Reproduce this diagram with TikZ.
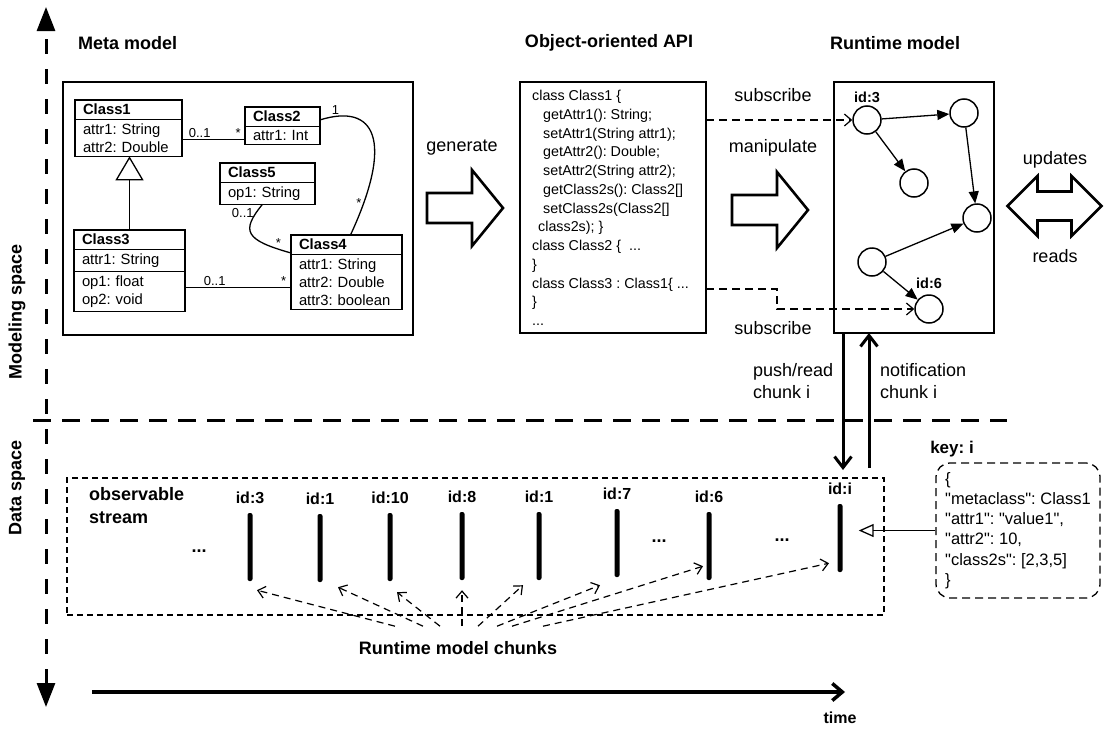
\documentclass[tikz,border=0pt]{standalone}
\usepackage{fontspec}
\setmainfont{Liberation Sans}
\newfontfamily\plainfont{Liberation Sans}
\usepackage{tikz}
\usetikzlibrary{arrows.meta,positioning,shapes.multipart}
\frenchspacing

\begin{document}
\begin{tikzpicture}[
  x = 1pt, y = -1pt,
  label distance = 8pt,
  title/.style = {font=\fontsize{18}{23}\selectfont\bfseries, inner sep=1pt},
  lbl/.style = {font=\fontsize{18}{22}\selectfont, inner sep=1pt},
  spacelbl/.style = {rotate=90, font=\fontsize{18}{20}\selectfont\bfseries},
  panel/.style = {draw, line width=1.5pt, anchor=north west, outer sep=0pt, inner sep=0pt},
  code/.style = {font=\fontsize{14.3}{18.75}\selectfont, align=left, inner sep=0pt, anchor=north west},
  umlclass/.style = {rectangle split, rectangle split parts=2, draw, line width=1.3pt, fill=white,
    font=\fontsize{14.8}{18}\selectfont, inner xsep=8pt, inner ysep=3.5pt, align=left,
    anchor=north west, outer sep=0pt},
  mult/.style = {font=\fontsize{13}{15}\selectfont, inner sep=1.5pt},
  assoc/.style = {line width=1.3pt},
  inherit/.style = {-{Triangle[open, length=24pt, width=28pt]}, line width=1.3pt},
  obj/.style = {circle, draw, line width=1.5pt, minimum size=28pt, inner sep=0pt, fill=white},
  rtid/.style = {font=\fontsize{14.5}{17}\selectfont\bfseries, inner sep=1pt},
  ref/.style = {-{Triangle[length=12pt, width=10pt]}, line width=1.3pt},
  subarr/.style = {-{Straight Barb[length=7pt, width=12pt]}, line width=1.2pt, dash pattern=on 8pt off 5pt},
  bigarr/.style = {-{Straight Barb[length=11pt, width=17pt]}, line width=3pt},
  streambox/.style = {draw, line width=1.2pt, dash pattern=on 6pt off 4pt, anchor=north west, outer sep=0pt},
  chunkbar/.style = {rectangle, fill=black, rounded corners=2pt, minimum width=5pt, minimum height=68pt, inner sep=0pt},
  cid/.style = {font=\fontsize{16}{19}\selectfont\bfseries, inner sep=1pt},
  chunkarr/.style = {-{Straight Barb[length=7pt, width=12pt]}, line width=1.2pt, dash pattern=on 7pt off 5pt},
  keybox/.style = {draw, line width=1.3pt, dash pattern=on 8pt off 5pt, rounded corners=14pt,
    font=\plainfont\fontsize{16.5}{20.3}\selectfont, align=left, minimum width=164pt, minimum height=135pt, inner sep=0pt},
  keyarr/.style = {-{Triangle[open, length=15pt, width=13pt]}, line width=1.3pt},
  axis/.style = {{Triangle[length=24pt, width=18pt]}-{Triangle[length=24pt, width=18pt]},
    line width=3pt, dash pattern=on 15pt off 15pt},
  sepline/.style = {line width=3pt, dash pattern=on 18pt off 11pt},
  timearr/.style = {-{Straight Barb[length=10pt, width=17pt]}, line width=3.5pt},
  fatarrow/.pic = {\draw[line width=2.6pt] (-38,-15) -- (7,-15) -- (7,-38) -- (38,0)
    -- (7,38) -- (7,15) -- (-38,15) -- cycle;},
  dblarrow/.pic = {\draw[line width=2.6pt] (-47,0) -- (-17,-30) -- (-17,-14.5) -- (17,-14.5)
    -- (17,-30) -- (47,0) -- (17,30) -- (17,14.5) -- (-17,14.5) -- (-17,30) -- cycle;}
]
\useasboundingbox (0,0) rectangle (1105,728);

% axes and spaces
\coordinate (ytop) at (46,7);
\coordinate (ybot) at (46,707);
\draw[axis] (ybot) -- (ytop);
\coordinate (sepL) at (33,420);
\coordinate (sepR) at (1007,420);
\draw[sepline] (sepL) -- (sepR);
\node[spacelbl] (mspace) at (17,312) {Modeling space};
\node[spacelbl] (dspace) at (17,488) {Data space};
\coordinate (t0) at (92,692);
\coordinate (t1) at (845,692);
\draw[timearr] (t0) -- (t1);
\node[title, font=\fontsize{16}{19}\selectfont\bfseries] (time) at (840,718) {time};

% titles and panels
\node[title, anchor=west] (ttlmeta) at (77,43) {Meta model};
\node[title] (ttlapi) at (609,43) {Object-oriented API};
\node[title] (ttlrt) at (895,43) {Runtime model};
\node[panel, minimum width=350pt, minimum height=253pt] (meta) at (63,82) {};
\node[panel, minimum width=186pt, minimum height=251pt] (api) at (520,82) {};
\node[panel, minimum width=160pt, minimum height=251pt] (rt) at (834,82) {};

% meta model
\node[umlclass, text width=91pt] (c1) at (75,100)
  {\centering\bfseries Class1\nodepart{two}attr1: String\\attr2: Double};
\node[umlclass, text width=59pt] (c2) at (245,107)
  {\centering\bfseries Class2\nodepart{two}attr1: Int};
\node[umlclass, text width=79pt] (c5) at (220,163)
  {\centering\bfseries Class5\nodepart{two}op1: String};
\node[umlclass, rectangle split parts=3, text width=95pt] (c3) at (74,230)
  {\centering\bfseries Class3\nodepart{two}attr1: String\nodepart{three}op1: float\\op2: void};
\node[umlclass, text width=95pt] (c4) at (291,235)
  {\centering\bfseries Class4\nodepart{two}attr1: String\\attr2: Double\\attr3: boolean};

\coordinate (a12) at ([yshift=5pt]c2.south west);
\coordinate (a34) at ([yshift=22pt]c4.south west);
\draw[assoc] (a12 -| c1.east) -- node[mult, pos=0.28, above]{0..1} node[mult, pos=0.89, above]{*} (a12);
\draw[assoc] (a34 -| c3.east) -- node[mult, pos=0.28, above]{0..1} node[mult, pos=0.93, above]{*} (a34);
\draw[inherit] (c3.north) -- (c3.north |- c1.south);
\draw[assoc] ([yshift=6pt]c2.east) .. controls +(55,-17) and +(44,-95) ..
  node[mult, pos=0.1, above]{1} node[mult, pos=0.88, left]{*} ([xshift=4pt]c4.north);
\draw[assoc] ([xshift=-5pt]c5.south) .. controls +(-22,27) and +(-46,-13) ..
  node[mult, pos=0.12, left]{0..1} node[mult, pos=0.9, above]{*} ([yshift=-18pt]c4.north west);

% generated API
\node[code] (apitext) at (532,90) {class Class1 \{\\
  \hspace*{11pt}getAttr1(): String;\\
  \hspace*{11pt}setAttr1(String attr1);\\
  \hspace*{11pt}getAttr2(): Double;\\
  \hspace*{11pt}setAttr2(String attr2);\\
  \hspace*{11pt}getClass2s(): Class2[]\\
  \hspace*{11pt}setClass2s(Class2[]\\
  \hspace*{6pt}class2s); \}\\
  class Class2 \{~~...\\
  \}\\
  class Class3 : Class1\{ ...\\
  \}\\
  ...};
\pic at (465,208) {fatarrow};
\node[lbl] (gen) at (462,148) {generate};
\pic at (770,210) {fatarrow};
\node[lbl] (manip) at (773,148) {manipulate};

% runtime model
\node[obj] (n1) at (867,120) {};
\node[obj] (n2) at (964,113) {};
\node[obj] (n3) at (914,183) {};
\node[obj] (n4) at (977,218) {};
\node[obj] (n5) at (872,262) {};
\node[obj] (n6) at (929,309) {};
\node[rtid, above=1pt of n1] (id3) {id:3};
\node[rtid, above=4pt of n6] (id6) {id:6};
\draw[ref] (n1) -- (n2);
\draw[ref] (n1) -- (n3);
\draw[ref] (n2) -- (n4);
\draw[ref] (n5) -- (n4);
\draw[ref] (n5) -- (n6);

\draw[subarr] (n1 -| api.east) -- (n1);
\node[lbl] (sub1) at (773,95) {subscribe};
\coordinate (s3) at ([yshift=44pt]api.south east);
\draw[subarr] (s3) -- ++(71,0) |- (n6);
\node[lbl] (sub2) at (773,328) {subscribe};

\pic at (1054.5,206) {dblarrow};
\node[lbl] (upd) at (1055,160) {updates};
\node[lbl] (reads) at (1055,256) {reads};

% push / notification
\draw[bigarr] ([xshift=9pt]rt.south west) -- ++(0,137);
\draw[bigarr] ([xshift=35pt,yshift=-135pt]rt.south west) -- ([xshift=35pt]rt.south west);
\node[lbl, anchor=west, align=left] (push) at (752,381) {push/read\\chunk i};
\node[lbl, anchor=west, align=left] (notif) at (879,381) {notification\\chunk i};

% data space
\node[streambox, minimum width=817pt, minimum height=137pt] (stream) at (67,478) {};
\node[title, anchor=north west, align=left] (obs) at (88,486) {observable\\stream};
\foreach \x/\yc/\id [count=\i] in {250/547/3, 320/548/1, 390/547/10, 462/546/8,
    539/546/1, 617/543/7, 709/546/6, 840/538/i}
  \node[chunkbar, label={[cid]above:{id:\id}}] (b\i) at (\x,\yc) {};
\node[title] (dots1) at (199,551) {...};
\node[title] (dots2) at (659,541) {...};
\node[title] (dots3) at (782,540) {...};

\node[title] (chunks) at (458,648) {Runtime model chunks};
\foreach \dx/\i/\tx/\ty in {-63/1/7/-9, -35/2/18/-5, -18/3/7/-11, 4/4/0/-10,
    20/5/-16/-5, 39/6/-17/-8, 54/7/-6/14, 85/8/-11/9}
  \draw[chunkarr] ([xshift=\dx, yshift=14pt]chunks.north) -- ([xshift=\tx, yshift=\ty]b\i.south);

% chunk key
\node[title, font=\fontsize{17}{20}\selectfont\bfseries] (keylbl) at (952,449) {key: i};
\node[keybox] (key) at (1018,530.5) {\{\\"metaclass": Class1\\"attr1": "value1",\\"attr2": 10,\\"class2s": [2,3,5]\\\}};
\path (b8.east |- key.west) ++(16,0) coordinate (ktip);
\draw[keyarr] (key.west) -- (ktip);
\end{tikzpicture}
\end{document}
